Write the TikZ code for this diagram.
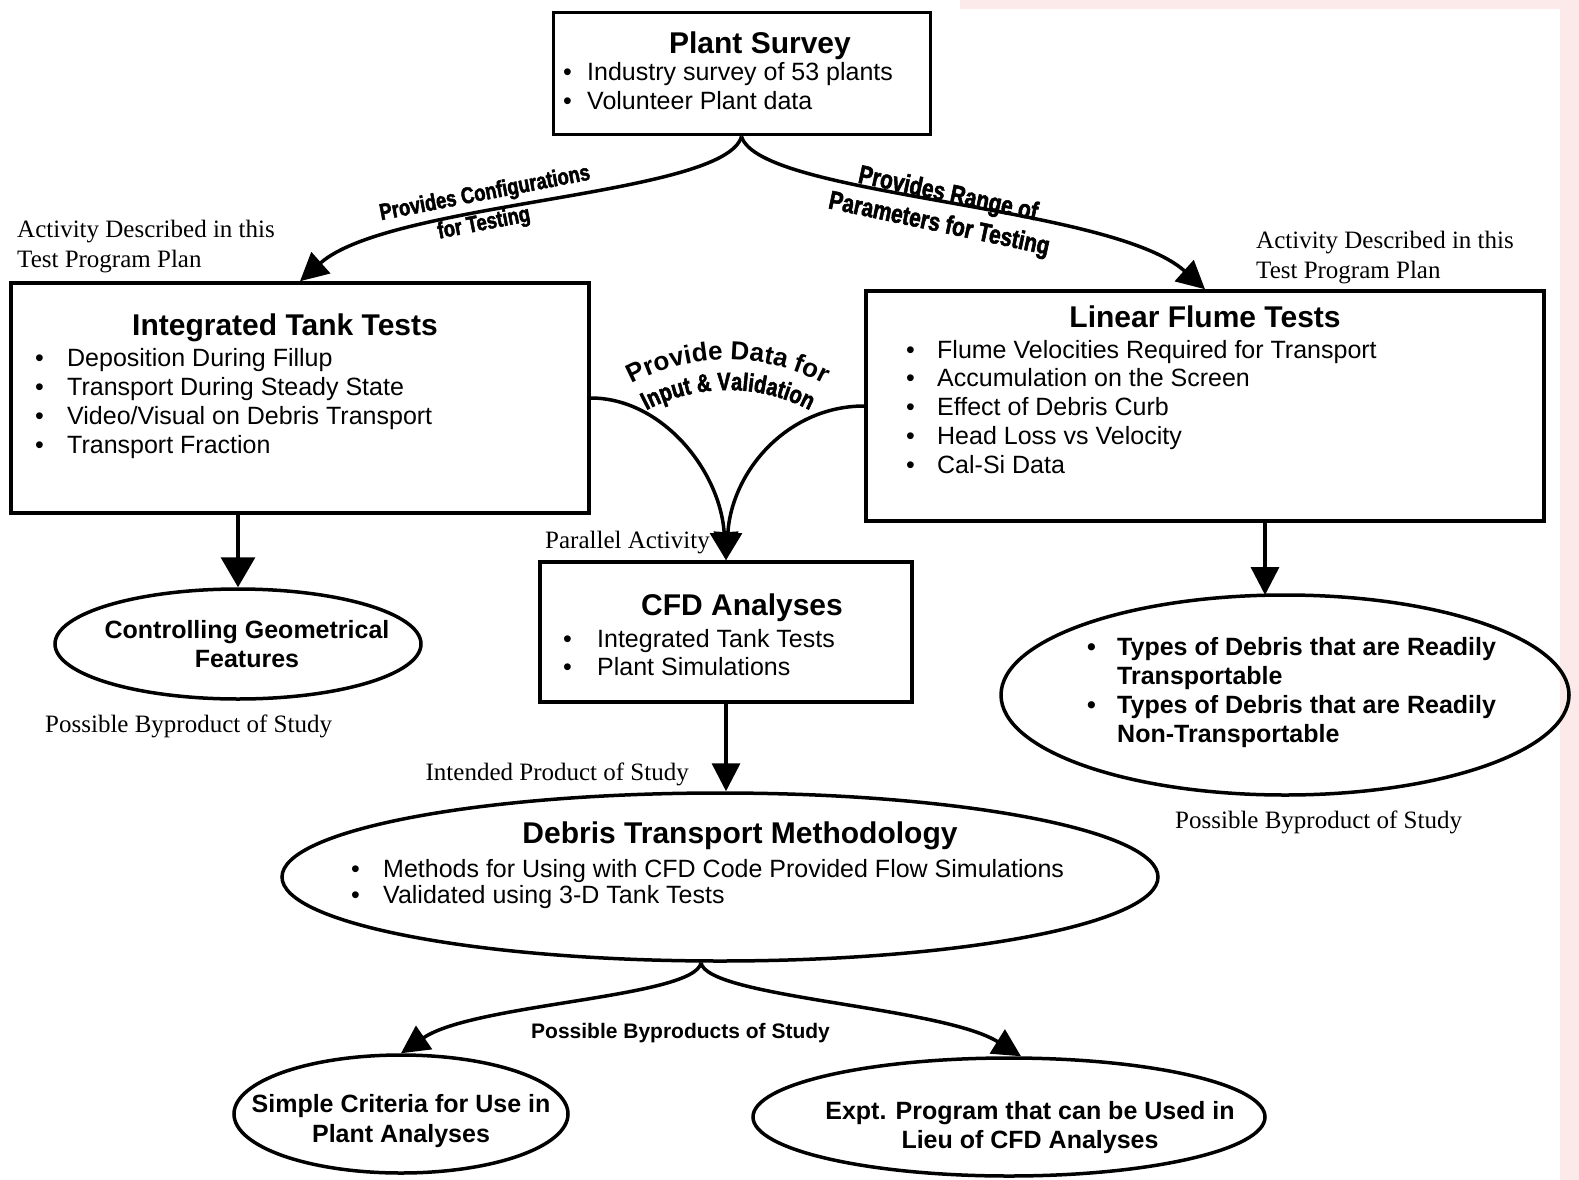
\documentclass[tikz,border=0pt]{standalone}
\usepackage{fontspec}
\setmainfont{Liberation Serif}
\setsansfont{Liberation Sans}
\newfontfamily\heavyfont[FakeStretch=0.8,FakeBold=2]{Liberation Sans Bold}
\usetikzlibrary{arrows.meta,shapes.geometric,decorations.text,calc}
\definecolor{scanpink}{RGB}{252,234,234}
\newcommand\myblist[4]{{\fontsize{#1}{#2}\selectfont\begin{tabular}[t]{@{}p{#3}@{}l@{}}#4\end{tabular}}}
\newcommand\myclist[3]{{\fontsize{#1}{#2}\selectfont\begin{tabular}[t]{@{}c@{}}#3\end{tabular}}}
\newcommand\myllist[3]{{\fontsize{#1}{#2}\selectfont\begin{tabular}[t]{@{}l@{}}#3\end{tabular}}}
\tikzset{
 box/.style={draw, rectangle, line width=3.5pt, inner sep=0pt},
 ell/.style={draw, ellipse, line width=3.5pt, inner sep=0pt},
 arr/.style={line width=3.5pt, -{Triangle[length=28pt,width=28pt]}},
 ttl/.style={font=\sffamily\bfseries\fontsize{30}{36}\selectfont, anchor=base, inner sep=0pt},
 bul/.style={font=\sffamily, anchor=base west, inner sep=0pt},
 bulb/.style={font=\sffamily\bfseries, anchor=base west, inner sep=0pt},
 ctr/.style={font=\sffamily\bfseries, anchor=base, inner sep=0pt},
 note/.style={font=\rmfamily\fontsize{25}{30}\selectfont, inner sep=0pt},
 crvl/.style={font=\heavyfont\fontsize{23}{26}\selectfont, inner sep=0pt},
 crvr/.style={font=\heavyfont\fontsize{26}{28}\selectfont, inner sep=0pt},
}
\begin{document}
\begin{tikzpicture}[x=1pt,y=-1pt]
\useasboundingbox (0,0) rectangle (1579,1180);
\fill[white] (0,0) rectangle (1579,1180);
\fill[scanpink] (1560,0) rectangle (1579,1180);
\fill[scanpink] (960,0) rectangle (1579,9);

% boxes
\node[box, line width=3pt, minimum width=377pt, minimum height=122pt] (ps) at (741.5,74) {};
\node[box, minimum width=578pt, minimum height=230pt] (it) at (300,398) {};
\node[box, minimum width=678pt, minimum height=230pt] (lf) at (1205,406) {};
\node[box, minimum width=372pt, minimum height=140pt] (cfd) at (726,632) {};

% ellipses
\node[ell, minimum width=366pt, minimum height=110pt] (cgf) at (238,644) {};
\node[ell, minimum width=568pt, minimum height=200pt] (td) at (1285,695) {};
\node[ell, minimum width=876pt, minimum height=168pt] (dtm) at (720,877) {};
\node[ell, minimum width=334pt, minimum height=118pt] (sc) at (401,1114) {};
\node[ell, minimum width=512pt, minimum height=118pt] (ex) at (1009,1117) {};

% connectors
\draw[arr] (ps.south) .. controls +(-16.5,60) and +(90,-80) .. (it.north);
\draw[arr] (ps.south) .. controls +(18,60) and +(-95,-85) .. (lf.north);
\draw[arr] (it.east) .. controls +(71,0) and +(-6,-90) .. (cfd.north);
\draw[arr] (lf.west) .. controls +(-76,0) and +(6,-90) .. (cfd.north);
\draw[line width=3.5pt, -{Triangle[length=30pt,width=34pt]}] (cgf.north |- it.south) -- (cgf.north);
\coordinate (tdIn) at (1265,595);
\draw[arr] (tdIn |- lf.south) -- (tdIn);
\draw[arr] (cfd.south) -- (cfd.south |- dtm.north);
\coordinate (dtmB) at ($(dtm.south)+(-19,0)$);
\coordinate (exIn) at ($(ex.north)+(12,0)$);
\draw[arr] (dtmB) .. controls +(-6,35) and +(73,-50) .. (sc.north);
\draw[arr] (dtmB) .. controls +(6,35) and +(-80,-50) .. (exIn);

% white label panel
\node[fill=white, inner sep=0pt, minimum width=361pt, minimum height=36pt] (pbBox) at (689.5,1033) {};
\node[font=\sffamily\bfseries\fontsize{21}{24}\selectfont, anchor=base west, inner sep=0pt] (pbT) at (531,1038) {Possible Byproducts of Study};

% box texts
\node[ttl] (psT) at (760,54) {Plant Survey};
\node[bul] (psB) at (563,81) {\myblist{25}{29pt}{24pt}{• & Industry survey of 53 plants\\ • & Volunteer Plant data}};

\node[ttl] (itT) at (285,335) {Integrated Tank Tests};
\node[bul] (itB) at (35,366) {\myblist{25}{29pt}{32pt}{• & Deposition During Fillup\\ • & Transport During Steady State\\ • & Video/Visual on Debris Transport\\ • & Transport Fraction}};

\node[ttl] (lfT) at (1205,327) {Linear Flume Tests};
\node[bul] (lfB) at (906,358) {\myblist{25}{28.75pt}{31pt}{• & Flume Velocities Required for Transport\\ • & Accumulation on the Screen\\ • & Effect of Debris Curb\\ • & Head Loss vs Velocity\\ • & Cal-Si Data}};

\node[ttl] (cfdT) at (742,615) {CFD Analyses};
\node[bul] (cfdB) at (563,647) {\myblist{25}{28pt}{34pt}{• & Integrated Tank Tests\\ • & Plant Simulations}};

\node[ttl] (dtmT) at (740,843) {Debris Transport Methodology};
\node[bul] (dtmL) at (351,877) {\myblist{25}{26.5pt}{32pt}{• & Methods for Using with CFD Code Provided Flow Simulations\\ • & Validated using 3-D Tank Tests}};

\node[bulb] (tdB) at (1087,655) {\myblist{25}{29pt}{30pt}{• & Types of Debris that are Readily\\ & Transportable\\ • & Types of Debris that are Readily\\ & Non-Transportable}};

\node[ctr] (cgfT) at (247,638) {\myclist{25}{29pt}{Controlling Geometrical\\Features}};
\node[ctr] (scT) at (401,1112) {\myclist{25}{30pt}{Simple Criteria for Use in\\Plant Analyses}};
\node[ctr] (exT) at (1030,1119) {\myclist{25}{29pt}{Expt. Program that can be Used in\\Lieu of CFD Analyses}};

% serif notes
\node[note, anchor=base west] (actL) at (17,237) {\myllist{25}{30pt}{Activity Described in this\\Test Program Plan}};
\node[note, anchor=base west] (actR) at (1256,248) {\myllist{25}{30pt}{Activity Described in this\\Test Program Plan}};
\node[note, anchor=base west] (par) at (545,548) {Parallel Activity};
\node[note, anchor=base east] (ipr) at (689,780) {Intended Product of Study};
\node[note, anchor=base west] (pbL) at (45,732) {Possible Byproduct of Study};
\node[note, anchor=base west] (pbR) at (1175,828) {Possible Byproduct of Study};

% slanted connector labels
\node[crvl, rotate=11] (l1) at (485,194) {Provides Configurations};
\node[crvl, rotate=11] (l2) at (484,224) {for Testing};
\node[crvr, rotate=-12] (r1) at (948,195) {Provides Range of};
\node[crvr, rotate=-12] (r2) at (939,225) {Parameters for Testing};

% arched label
\path[decorate, decoration={text along path, text align=center,
  text={|\sffamily\bfseries\fontsize{26}{26}\selectfont|Provide Data for}}]
  (596.2,408) .. controls (672.4,344) and (783.6,344) .. (859.8,408);
\path[decorate, decoration={text along path, text align=center,
  text={|\heavyfont\fontsize{25}{25}\selectfont|Input {\&} Validation}}]
  (615.5,431) .. controls (680.5,376.4) and (775.5,376.4) .. (840.5,431);
\end{tikzpicture}
\end{document}
